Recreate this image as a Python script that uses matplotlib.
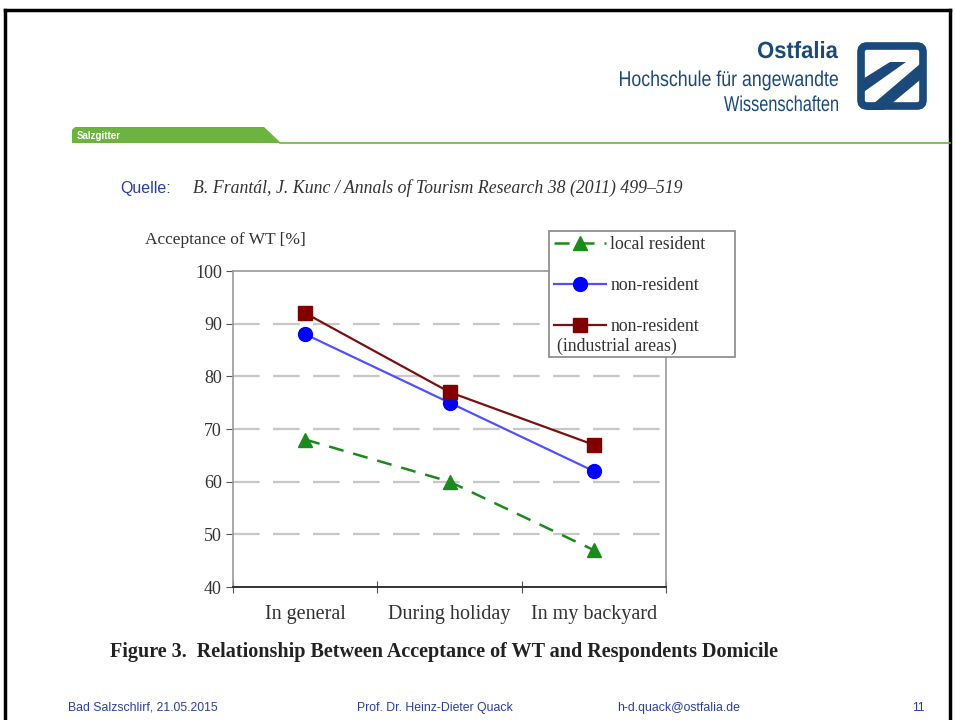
import matplotlib.pyplot as plt
from matplotlib.patches import Polygon, FancyBboxPatch, PathPatch, Rectangle
from matplotlib.textpath import TextPath
from matplotlib.font_manager import FontProperties
from matplotlib.transforms import Affine2D

# chart data
categories = ['In general', 'During holiday', 'In my backyard']
local_resident = [68, 60, 47]
non_resident = [88, 75, 62]
non_resident_industrial = [92, 77, 67]
y_ticks = [40, 50, 60, 70, 80, 90, 100]

W, H = 955, 720
fig = plt.figure(figsize=(W / 100, H / 100), dpi=100)
fig.patch.set_facecolor('white')


def px(x, y):
    # pixel position on the slide -> figure fraction
    return x / W, 1 - y / H


serif = 'Liberation Serif'
sans = 'Liberation Sans'
navy = '#1b4a7a'
footer_blue = '#2a3f9a'

# overlay in slide pixels for the decorations
deco = fig.add_axes([0, 0, 1, 1])
deco.set_xlim(0, W)
deco.set_ylim(H, 0)
deco.axis('off')


def narrow_text(x0, x1, base, size, s, weight='normal', color=navy):
    # text squeezed to span x0..x1 (condensed look of the logo font)
    tp = TextPath((0, 0), s, size=size, prop=FontProperties(family=sans, weight=weight))
    bb = tp.get_extents()
    sx = (x1 - x0) / bb.width
    tr = Affine2D().translate(-bb.x0, 0).scale(sx, -1).translate(x0, base)
    deco.add_patch(PathPatch(tr.transform_path(tp), fc=color, ec='none'))


# slide frame
deco.plot([5, 950], [10, 10], color='black', lw=2.5)
deco.plot([5, 5], [10, 720], color='black', lw=2.5)
deco.plot([950, 950], [10, 720], color='black', lw=2.5)

# logo
narrow_text(758, 838, 58, 23.5, 'Ostfalia', weight='bold')
narrow_text(620, 838, 86, 21.5, 'Hochschule für angewandte')
narrow_text(724, 838, 111, 21.5, 'Wissenschaften')
deco.add_patch(FancyBboxPatch((861, 46), 62, 60, boxstyle='round,pad=0,rounding_size=6',
                              fc='none', ec=navy, lw=5.5))
deco.add_patch(Polygon([(858, 96), (858, 82), (890, 62), (906, 62)], closed=True,
                       fc=navy, ec='none'))
deco.add_patch(Polygon([(866, 110), (884, 110), (920, 80), (920, 64)], closed=True,
                       fc=navy, ec='none'))

# green tab with line
green = '#6db33f'
deco.add_patch(Polygon([(72, 143), (72, 130), (75, 127), (264, 127), (281, 143)],
                       closed=True, fc=green, ec='none'))
deco.plot([280, 950], [143, 143], color=green, lw=1.2)
fig.text(*px(77, 136), 'Salzgitter', ha='left', va='center', fontsize=7,
         fontweight='bold', color='white', family=sans)

# source line
fig.text(*px(120, 188), 'Quelle:', ha='left', va='center', fontsize=11.5,
         color=footer_blue, family=sans)
fig.text(*px(193, 188), 'B. Frantál, J. Kunc / Annals of Tourism Research 38 (2011) 499–519',
         ha='left', va='center', fontsize=12.8, style='italic', color='#333333', family=serif)

# axes
ax = fig.add_axes([233 / W, 1 - 587 / H, (666 - 233) / W, (587 - 271) / H])
x = range(len(categories))
ax.plot(x, local_resident, color='#1a8a1a', lw=1.8, ls=(0, (6, 4)), marker='^',
        markersize=10, label='local resident', zorder=3)
ax.plot(x, non_resident, color='#5050ff', lw=1.6, marker='o', markersize=10,
        markerfacecolor='#0000ff', markeredgecolor='#0000ff', label='non-resident', zorder=3)
ax.plot(x, non_resident_industrial, color='#7a1010', lw=1.6, marker='s', markersize=10,
        markerfacecolor='#800000', markeredgecolor='#800000',
        label='non-resident', zorder=3)

ax.set_xlim(-0.5, len(categories) - 0.5)
ax.set_ylim(40, 100)
ax.set_yticks(y_ticks)
ax.set_yticklabels([str(v) for v in y_ticks], family=serif, fontsize=13, color='#333333')
ax.set_xticks([-0.5, 0.5, 1.5, 2.5])
ax.set_xticklabels([])
ax.set_xticks(list(x), minor=True)
ax.set_xticklabels(categories, minor=True, family=serif, fontsize=14.5, color='#333333')
ax.tick_params(axis='x', which='minor', length=0, pad=13)
ax.tick_params(axis='x', which='major', direction='inout', length=8, color='#555555')
ax.tick_params(axis='y', direction='out', length=5, color='#555555', pad=3)
for v in y_ticks[1:-1]:
    ax.axhline(v, color='#c8c8c8', lw=1.6, ls=(0, (12, 6)), zorder=1)
for s in ['top', 'right', 'left']:
    ax.spines[s].set_color('#999999')
    ax.spines[s].set_linewidth(1.2)
ax.spines['bottom'].set_color('#333333')
ax.spines['bottom'].set_linewidth(1.4)

fig.text(*px(145, 240), 'Acceptance of WT [%]', ha='left', va='center', fontsize=12.5,
         color='#333333', family=serif)

# legend: box drawn by hand so the second line can run under the handle
ax.add_patch(Rectangle(px(549, 357), 186 / W, 126 / H, transform=fig.transFigure,
                       clip_on=False, fc='white', ec='#888888', lw=1.2, zorder=4))
leg = ax.legend(loc='upper left', bbox_to_anchor=px(549, 231), bbox_transform=fig.transFigure,
                prop={'family': serif, 'size': 12.8}, frameon=False,
                handlelength=2.9, handletextpad=0.25,
                labelspacing=1.35, borderpad=0.3, borderaxespad=0)
leg.set_zorder(5)
for t in leg.get_texts():
    t.set_color('#333333')
ax.text(*px(557, 346), '(industrial areas)', transform=fig.transFigure, ha='left',
        va='center', fontsize=12.8, color='#333333', family=serif, zorder=6)

# caption
fig.text(*px(110, 652), 'Figure 3.  Relationship Between Acceptance of WT and Respondents Domicile',
         ha='left', va='center', fontsize=14.5, fontweight='bold', color='#222222', family=serif)

# footer
for fx, txt in [(68, 'Bad Salzschlirf, 21.05.2015'), (357, 'Prof. Dr. Heinz-Dieter Quack'),
                (617, 'h-d.quack@ostfalia.de'), (912, '11')]:
    fig.text(*px(fx, 708), txt, ha='left', va='center', fontsize=8.8,
             color=footer_blue, family=sans)

fig.savefig('out.png', dpi=100, facecolor='white')
